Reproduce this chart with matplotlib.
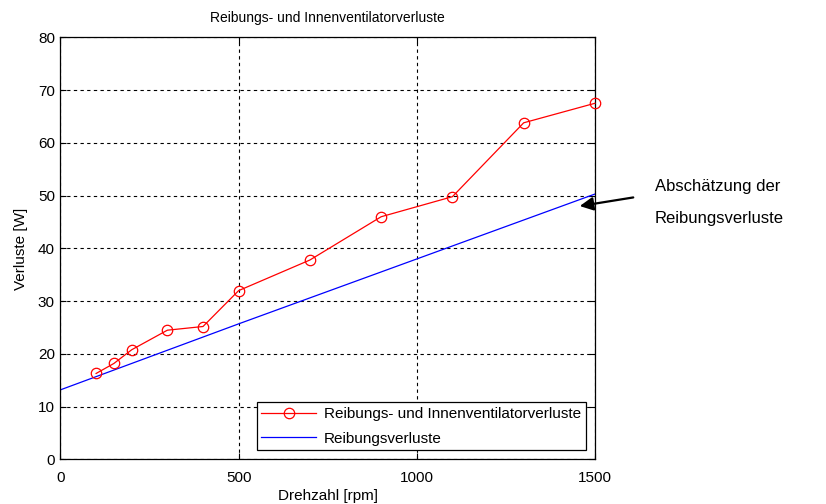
import matplotlib
matplotlib.use("Agg")
import matplotlib.pyplot as plt

plt.rcParams['font.family'] = ['Liberation Sans', 'DejaVu Sans']

# Data
rpm_meas = [100, 150, 200, 300, 400, 500, 700, 900, 1100, 1300, 1500]
loss_meas = [16.3, 18.2, 20.8, 24.5, 25.2, 32.0, 37.8, 46.0, 49.8, 63.8, 67.5]
rpm_est = [0, 500, 1000, 1500]
loss_est = [13.2, 25.7, 38.0, 50.3]

xticks = [0, 500, 1000, 1500]
yticks = [0, 10, 20, 30, 40, 50, 60, 70, 80]

fig = plt.figure(figsize=(8.26, 5.04), dpi=100)
ax = fig.add_axes([0.0732, 0.0883, 0.6471, 0.8377])

ax.plot(rpm_meas, loss_meas, color='#ff0000', lw=0.9, marker='o', ms=7.5,
        mfc='none', mec='#ff0000', mew=0.9, clip_on=False, zorder=3,
        label='Reibungs- und Innenventilatorverluste')
ax.plot(rpm_est, loss_est, color='#0000ff', lw=0.9, label='Reibungsverluste')

ax.set_xlim(0, 1500)
ax.set_ylim(0, 80)
ax.set_xticks(xticks)
ax.set_yticks(yticks)
ax.tick_params(direction='in', top=True, right=True, length=4, width=0.8,
               labelsize=11, colors='black')
ax.tick_params(axis='x', pad=8)
ax.tick_params(axis='y', pad=4)
ax.grid(True, color='black', linestyle=(0, (3, 3)), linewidth=0.8)
for s in ax.spines.values():
    s.set_linewidth(0.9)

ax.set_title('Reibungs- und Innenventilatorverluste', fontsize=10, pad=11)
ax.set_xlabel('Drehzahl [rpm]', fontsize=11, labelpad=3)
ax.set_ylabel('Verluste [W]', fontsize=11, labelpad=7)

leg = ax.legend(loc='lower right', fontsize=11, fancybox=False, framealpha=1,
                edgecolor='black', borderaxespad=0.6, handlelength=3.6,
                borderpad=0.3, labelspacing=0.7, handletextpad=0.5)
leg.get_frame().set_linewidth(0.9)

fig.text(655 / 826, 1 - 186 / 504, 'Abschätzung der', fontsize=12, va='center', ha='left')
fig.text(655 / 826, 1 - 219 / 504, 'Reibungsverluste', fontsize=12, va='center', ha='left')
fig.patches.append(matplotlib.patches.FancyArrowPatch(
    (636 / 826, 1 - 197 / 504), (577 / 826, 1 - 206.5 / 504),
    transform=fig.transFigure, arrowstyle='-|>,head_length=8,head_width=4',
    mutation_scale=1, color='black', lw=1.6))

fig.savefig('out.png', dpi=100)
